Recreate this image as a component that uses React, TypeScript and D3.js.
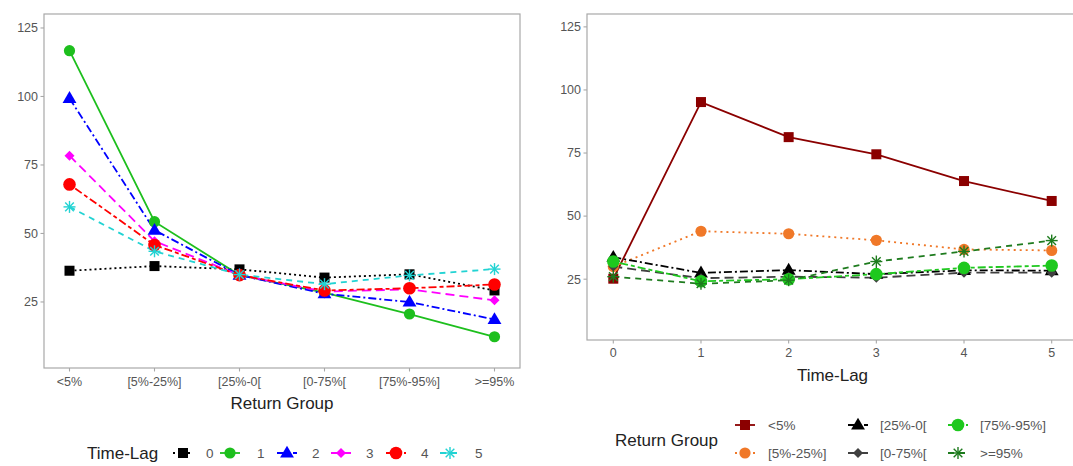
import React from "react";
import * as d3 from "d3";

// ---------- data ----------
const returnGroups = ["<5%", "[5%-25%]", "[25%-0[", "[0-75%[", "[75%-95%]", ">=95%"];
const timeLags = ["0", "1", "2", "3", "4", "5"];
const yTicks = [25, 50, 75, 100, 125];

// Left panel: one series per time-lag, values across return groups
const lag0 = [36.4, 38.1, 36.9, 33.9, 35.1, 29.2];
const lag1 = [116.7, 54.3, 34.8, 28.4, 20.6, 12.3];
const lag2 = [99.3, 51.2, 34.8, 28.0, 25.0, 18.6];
const lag3 = [78.4, 47.2, 34.8, 28.8, 29.6, 25.6];
const lag4 = [67.9, 45.8, 34.8, 29.2, 30.0, 31.4];
const lag5 = [59.7, 43.5, 35.0, 31.5, 34.7, 37.0];

// Right panel: one series per return group, values across time-lags
const grpLt5 = [25.2, 95.2, 81.3, 74.5, 63.9, 56.0];
const grp5to25 = [30.0, 44.0, 43.0, 40.4, 36.8, 36.4];
const grp25to0 = [33.7, 27.5, 28.6, 27.0, 28.5, 28.4];
const grp0to75 = [30.0, 25.4, 26.0, 25.6, 27.6, 27.6];
const grp75to95 = [32.0, 24.2, 25.0, 27.0, 29.5, 30.4];
const grpGe95 = [26.0, 23.2, 24.6, 32.0, 36.0, 40.3];

const leftValues = [lag0, lag1, lag2, lag3, lag4, lag5];
const rightValues = [grpLt5, grp5to25, grp25to0, grp0to75, grp75to95, grpGe95];

// ---------- styles ----------
type Shape = "square" | "circle" | "bigcircle" | "triangle" | "diamond" | "asterisk";
const leftColors = ["#000000", "#1DBF1D", "#0000FF", "#FF00FF", "#FF0000", "#22D3D3"];
const leftShapes: Shape[] = ["square", "circle", "triangle", "diamond", "bigcircle", "asterisk"];
const leftDashes = ["2,3", "", "8,3,2,3", "9,5", "4,3,8,3", "6,5"];

const rightColors = ["#8B0000", "#F07828", "#000000", "#404040", "#1EC81E", "#1E7B1E"];
const rightShapes: Shape[] = ["square", "circle", "triangle", "diamond", "bigcircle", "asterisk"];
const rightDashes = ["", "2,4", "8,3,2,3", "9,5", "4,3,8,3", "6,5"];

const FONT = "'Liberation Sans', Arial, sans-serif";
const TICK_COLOR = "#555555";
const BORDER = "#A8A8A8";

function Marker({ shape, x, y, color }: { shape: Shape; x: number; y: number; color: string }) {
  switch (shape) {
    case "square":
      return <rect x={x - 5} y={y - 5} width={10} height={10} fill={color} />;
    case "circle":
      return <circle cx={x} cy={y} r={5.6} fill={color} />;
    case "bigcircle":
      return <circle cx={x} cy={y} r={6.3} fill={color} />;
    case "triangle": {
      const s = 7.3;
      return (
        <path
          d={`M${x},${y - s} L${x + s * 0.95},${y + s * 0.62} L${x - s * 0.95},${y + s * 0.62} Z`}
          fill={color}
        />
      );
    }
    case "diamond": {
      const s = 5;
      return <path d={`M${x},${y - s} L${x + s},${y} L${x},${y + s} L${x - s},${y} Z`} fill={color} />;
    }
    case "asterisk": {
      const s = 6;
      const d = s * 0.72;
      return (
        <g stroke={color} strokeWidth={1.4}>
          <line x1={x - s} y1={y} x2={x + s} y2={y} />
          <line x1={x} y1={y - s} x2={x} y2={y + s} />
          <line x1={x - d} y1={y - d} x2={x + d} y2={y + d} />
          <line x1={x - d} y1={y + d} x2={x + d} y2={y - d} />
        </g>
      );
    }
  }
  return null;
}

const yDomain: [number, number] = [0.9, 130.1];

function Panel({
  left, right, top, bottom, categories, values, colors, shapes, dashes, xTitle, tickLabelDy, titleDy,
}: {
  left: number; right: number; top: number; bottom: number; categories: string[];
  values: number[][]; colors: string[]; shapes: Shape[]; dashes: string[]; xTitle: string;
  tickLabelDy: number; titleDy: number;
}) {
  const x = d3.scalePoint<string>().domain(categories).range([left, right]).padding(0.3);
  const y = d3.scaleLinear().domain(yDomain).range([bottom, top]);
  const line = d3
    .line<number>()
    .x((_, i) => x(categories[i]) as number)
    .y((v) => y(v));
  return (
    <g>
      <rect x={left} y={top} width={right - left} height={bottom - top} fill="white" stroke={BORDER} strokeWidth={1.2} />
      {yTicks.map((t) => (
        <g key={t}>
          <line x1={left - 3.5} x2={left} y1={y(t)} y2={y(t)} stroke={BORDER} strokeWidth={1.1} />
          <text x={left - 6} y={y(t)} dy="0.35em" textAnchor="end" fontSize={12.5} fill={TICK_COLOR} fontFamily={FONT}>
            {t}
          </text>
        </g>
      ))}
      {categories.map((c) => (
        <g key={c}>
          <line x1={x(c)} x2={x(c)} y1={bottom} y2={bottom + 3.5} stroke={BORDER} strokeWidth={1.1} />
          <text x={x(c)} y={bottom + tickLabelDy} textAnchor="middle" fontSize={12.5} fill={TICK_COLOR} fontFamily={FONT}>
            {c}
          </text>
        </g>
      ))}
      <text x={(left + right) / 2} y={bottom + titleDy} textAnchor="middle" fontSize={17} fill="#222222" fontFamily={FONT}>
        {xTitle}
      </text>
      {values.map((vals, si) => (
        <path
          key={"l" + si}
          d={line(vals) || ""}
          fill="none"
          stroke={colors[si]}
          strokeWidth={1.8}
          strokeDasharray={dashes[si] || undefined}
        />
      ))}
      {values.map((vals, si) =>
        vals.map((v, i) => (
          <Marker key={"m" + si + "-" + i} shape={shapes[si]} x={x(categories[i]) as number} y={y(v)} color={colors[si]} />
        ))
      )}
    </g>
  );
}

function LegendKey({ x, y, color, shape, dash }: { x: number; y: number; color: string; shape: Shape; dash: string }) {
  return (
    <g>
      <line x1={x - 10} x2={x + 10} y1={y} y2={y} stroke={color} strokeWidth={1.8} strokeDasharray={dash || undefined} />
      <Marker shape={shape} x={x} y={y} color={color} />
    </g>
  );
}

export default function App() {
  const W = 1073;
  const H = 466;
  const leftKeyX = [183, 230, 287, 341, 396, 450];
  const leftLabelX = [206, 257, 312, 366, 421, 475];
  const rightKeyX = [745, 858, 958];
  const rightLabelX = [768, 880, 980];
  const rowY = [425, 453];
  return (
    <svg width={W} height={H} style={{ position: "absolute", left: 0, top: 0, background: "white" }}>
      <rect x={0} y={0} width={W} height={H} fill="white" />
      <Panel
        left={44} right={520} top={14} bottom={368}
        categories={returnGroups} values={leftValues} colors={leftColors} shapes={leftShapes} dashes={leftDashes}
        xTitle="Return Group" tickLabelDy={17.5} titleDy={41}
      />
      <Panel
        left={587} right={1078} top={14} bottom={340}
        categories={timeLags} values={rightValues} colors={rightColors} shapes={rightShapes} dashes={rightDashes}
        xTitle="Time-Lag" tickLabelDy={16.5} titleDy={41}
      />
      {/* left legend */}
      <text x={87} y={453} dy="0.35em" fontSize={17} fill="#222222" fontFamily={FONT}>Time-Lag</text>
      {timeLags.map((t, i) => (
        <g key={t}>
          <LegendKey x={leftKeyX[i]} y={453} color={leftColors[i]} shape={leftShapes[i]} dash={leftDashes[i]} />
          <text x={leftLabelX[i]} y={453} dy="0.35em" fontSize={13.5} fill={TICK_COLOR} fontFamily={FONT}>{t}</text>
        </g>
      ))}
      {/* right legend */}
      <text x={615} y={440} dy="0.35em" fontSize={17} fill="#222222" fontFamily={FONT}>Return Group</text>
      {returnGroups.map((g, i) => {
        const col = Math.floor(i / 2);
        const row = i % 2;
        return (
          <g key={g}>
            <LegendKey x={rightKeyX[col]} y={rowY[row]} color={rightColors[i]} shape={rightShapes[i]} dash={rightDashes[i]} />
            <text x={rightLabelX[col]} y={rowY[row]} dy="0.35em" fontSize={13.5} fill={TICK_COLOR} fontFamily={FONT}>{g}</text>
          </g>
        );
      })}
    </svg>
  );
}
